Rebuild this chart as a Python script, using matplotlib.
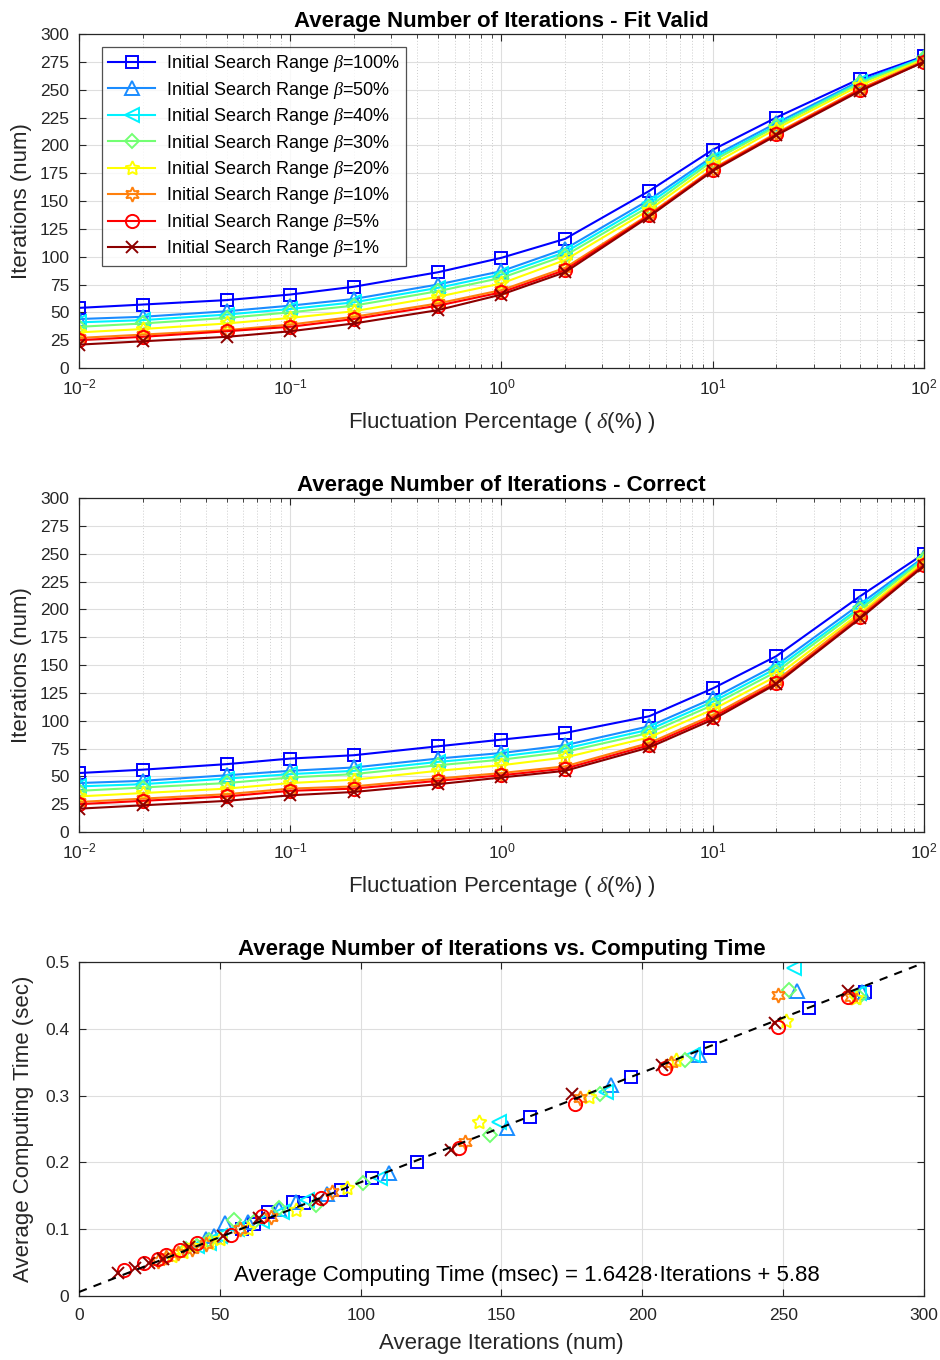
import matplotlib
matplotlib.use("Agg")
import matplotlib.pyplot as plt
import numpy as np
from matplotlib.ticker import LogLocator, NullFormatter, MultipleLocator, FuncFormatter

plt.rcParams["font.family"] = ["Liberation Sans", "DejaVu Sans"]
plt.rcParams["mathtext.fontset"] = "custom"
plt.rcParams["mathtext.it"] = "Liberation Serif:italic"
plt.rcParams["mathtext.rm"] = "Liberation Sans"

# fluctuation percentages (x axis of the two line charts)
delta = [0.01, 0.02, 0.05, 0.1, 0.2, 0.5, 1, 2, 5, 10, 20, 50, 100]

BETAS = ["100%", "50%", "40%", "30%", "20%", "10%", "5%", "1%"]

# Fit Valid
fit_valid = {
    "100%": [54, 57, 61, 66, 73, 86, 99, 116, 159, 196, 225, 260, 280],
    "50%": [44, 46, 51, 56, 62, 75, 87, 107, 151, 190, 220, 258, 279],
    "40%": [41, 43, 48, 53, 59, 72, 84, 104, 148, 188, 218, 257, 279],
    "30%": [37, 40, 45, 50, 56, 69, 81, 101, 145, 186, 217, 256, 278],
    "20%": [32, 35, 40, 45, 51, 64, 76, 97, 142, 183, 215, 254, 277],
    "10%": [27, 30, 34, 39, 46, 58, 70, 90, 138, 179, 211, 251, 276],
    "5%": [25, 28, 33, 37, 44, 56, 68, 88, 137, 178, 210, 250, 275],
    "1%": [21, 24, 28, 33, 40, 52, 66, 86, 136, 177, 209, 249, 275],
}

# Correct
correct = {
    "100%": [53, 56, 61, 66, 69, 77, 83, 89, 104, 129, 158, 212, 250],
    "50%": [44, 46, 51, 55, 58, 66, 71, 78, 95, 120, 150, 205, 247],
    "40%": [41, 43, 48, 52, 55, 63, 68, 75, 92, 117, 147, 202, 246],
    "30%": [37, 40, 44, 49, 52, 60, 65, 72, 89, 114, 144, 200, 245],
    "20%": [32, 35, 39, 44, 47, 55, 60, 67, 85, 110, 140, 197, 243],
    "10%": [27, 30, 34, 39, 41, 48, 53, 59, 80, 105, 136, 195, 241],
    "5%": [25, 28, 32, 37, 39, 46, 51, 57, 78, 103, 134, 193, 240],
    "1%": [21, 24, 28, 33, 36, 43, 49, 55, 76, 101, 133, 192, 239],
}

# iterations vs computing time (sec)
scatter_iter = {
    "100%": [58, 62, 67, 76, 80, 93, 104, 120, 160, 196, 224, 259, 279],
    "50%": [45, 48, 52, 60, 71, 77, 88, 110, 152, 189, 220, 255, 278],
    "40%": [42, 46, 50, 56, 65, 72, 81, 107, 149, 187, 218, 254, 277],
    "30%": [38, 42, 46, 55, 62, 71, 84, 101, 146, 185, 215, 252, 277],
    "20%": [33, 37, 40, 46, 50, 60, 77, 95, 142, 181, 212, 251, 276],
    "10%": [28, 31, 35, 40, 45, 57, 68, 90, 137, 178, 210, 248, 274],
    "5%": [16, 23, 28, 31, 36, 42, 54, 65, 86, 135, 176, 208, 248, 273],
    "1%": [14, 20, 25, 30, 39, 51, 64, 85, 132, 175, 207, 247, 273],
}
scatter_time = {
    "100%": [0.100, 0.108, 0.126, 0.140, 0.139, 0.159, 0.176, 0.201, 0.268, 0.327, 0.371, 0.431, 0.455],
    "50%": [0.085, 0.090, 0.109, 0.110, 0.130, 0.141, 0.152, 0.184, 0.251, 0.316, 0.361, 0.457, 0.455],
    "40%": [0.075, 0.080, 0.090, 0.100, 0.112, 0.125, 0.144, 0.176, 0.261, 0.306, 0.361, 0.491, 0.454],
    "30%": [0.070, 0.075, 0.083, 0.114, 0.110, 0.131, 0.136, 0.169, 0.241, 0.303, 0.353, 0.458, 0.448],
    "20%": [0.060, 0.066, 0.075, 0.080, 0.085, 0.100, 0.129, 0.161, 0.261, 0.298, 0.353, 0.411, 0.446],
    "10%": [0.052, 0.058, 0.064, 0.070, 0.078, 0.100, 0.118, 0.156, 0.231, 0.296, 0.348, 0.450, 0.448],
    "5%": [0.039, 0.049, 0.056, 0.061, 0.069, 0.079, 0.091, 0.119, 0.146, 0.221, 0.288, 0.341, 0.403, 0.448],
    "1%": [0.034, 0.042, 0.049, 0.056, 0.074, 0.089, 0.116, 0.144, 0.219, 0.302, 0.346, 0.408, 0.457],
}
FIT_SLOPE = 1.6428
FIT_OFFSET = 5.88

COLORS = {
    "100%": (0.0, 0.0, 1.0),
    "50%": (0.1, 0.55, 1.0),
    "40%": (0.0, 0.95, 1.0),
    "30%": (0.45, 1.0, 0.45),
    "20%": (1.0, 1.0, 0.0),
    "10%": (1.0, 0.5, 0.05),
    "5%": (1.0, 0.0, 0.0),
    "1%": (0.55, 0.0, 0.0),
}
MARKERS = {
    "100%": "s",
    "50%": "^",
    "40%": "<",
    "30%": "D",
    "20%": (5, 1, 0),
    "10%": (6, 1, 0),
    "5%": "o",
    "1%": "x",
}
MSIZE = {"100%": 8.5, "50%": 9.5, "40%": 9.5, "30%": 7.5, "20%": 10.5, "10%": 10.5, "5%": 9.5, "1%": 8.5}

EDGE = (0.15, 0.15, 0.15)
TICK_FS = 12.5
LABEL_FS = 16
TITLE_FS = 16


def style_axes(ax):
    for s in ax.spines.values():
        s.set_color(EDGE)
        s.set_linewidth(0.9)
    ax.tick_params(which="both", direction="in", top=True, right=True,
                   colors=EDGE, labelsize=TICK_FS, pad=7)
    ax.tick_params(which="major", length=5)
    ax.tick_params(which="minor", length=3)
    ax.grid(True, which="major", color=(0.87, 0.87, 0.87), linewidth=0.8)
    ax.set_axisbelow(True)


def line_chart(ax, data, title, legend=False):
    for b in BETAS:
        ax.plot(delta, data[b], color=COLORS[b], marker=MARKERS[b], markersize=MSIZE[b],
                markerfacecolor="none", markeredgewidth=1.4, linewidth=1.5,
                label=r"Initial Search Range $\it{\beta}$=" + b)
    ax.set_xscale("log")
    ax.set_xlim(0.01, 100)
    ax.set_ylim(0, 300)
    ax.yaxis.set_major_locator(MultipleLocator(25))
    ax.xaxis.set_minor_locator(LogLocator(base=10, subs=np.arange(2, 10)))
    ax.xaxis.set_minor_formatter(NullFormatter())
    style_axes(ax)
    ax.grid(True, which="minor", axis="x", color=(0.8, 0.8, 0.8), linestyle=(0, (1, 2)), linewidth=0.7)
    ax.set_title(title, fontsize=TITLE_FS, fontweight="bold", pad=5)
    ax.set_xlabel(r"Fluctuation Percentage ( $\it{\delta}$(%) )", fontsize=LABEL_FS, color=EDGE, labelpad=9)
    ax.set_ylabel("Iterations (num)", fontsize=LABEL_FS, color=EDGE, labelpad=6)
    if legend:
        leg = ax.legend(loc="upper left", bbox_to_anchor=(0.027, 0.961), borderaxespad=0,
                        fontsize=13, frameon=True, fancybox=False, edgecolor=EDGE,
                        handlelength=2.6, labelspacing=0.3, borderpad=0.35, handletextpad=0.6)
        leg.get_frame().set_linewidth(0.9)


fig = plt.figure(figsize=(9.4, 13.6), dpi=100)
ax1 = fig.add_axes([0.084, 0.7294, 0.899, 0.2456])
ax2 = fig.add_axes([0.084, 0.3882, 0.899, 0.2456])
ax3 = fig.add_axes([0.084, 0.0471, 0.899, 0.2456])

line_chart(ax1, fit_valid, "Average Number of Iterations - Fit Valid", legend=True)
line_chart(ax2, correct, "Average Number of Iterations - Correct")

for b in BETAS:
    ax3.plot(scatter_iter[b], scatter_time[b], linestyle="none", color=COLORS[b],
             marker=MARKERS[b], markersize=MSIZE[b], markerfacecolor="none", markeredgewidth=1.4)
xfit = np.array([0, 300])
ax3.plot(xfit, (FIT_SLOPE * xfit + FIT_OFFSET) / 1000, color="black", linestyle=(0, (4, 3.5)),
         linewidth=1.5, zorder=5)
ax3.set_xlim(0, 300)
ax3.set_ylim(0, 0.5)
ax3.xaxis.set_major_locator(MultipleLocator(50))
ax3.yaxis.set_major_locator(MultipleLocator(0.1))
ax3.yaxis.set_major_formatter(FuncFormatter(lambda v, p: "0" if abs(v) < 1e-9 else "%.1f" % v))
style_axes(ax3)
ax3.tick_params(axis="x", pad=9)
ax3.set_title("Average Number of Iterations vs. Computing Time", fontsize=TITLE_FS, fontweight="bold", pad=5)
ax3.set_xlabel("Average Iterations (num)", fontsize=LABEL_FS, color=EDGE, labelpad=7)
ax3.set_ylabel("Average Computing Time (sec)", fontsize=LABEL_FS, color=EDGE, labelpad=8)
ax3.text(55, 0.031, "Average Computing Time (msec) = %.4f\u00b7Iterations + %.2f" % (FIT_SLOPE, FIT_OFFSET),
         fontsize=16, va="center", ha="left", color="black")

fig.savefig("out.png", dpi=100)
